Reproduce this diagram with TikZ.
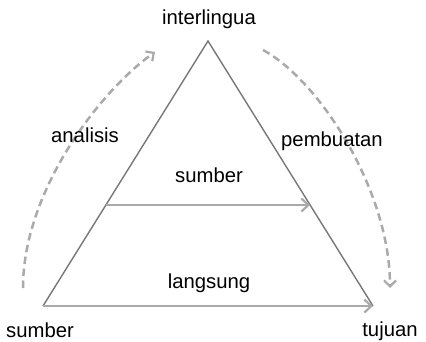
\documentclass[tikz,border=0pt]{standalone}
\usepackage{fontspec}
\setmainfont{Liberation Sans}
\usetikzlibrary{arrows.meta}
\definecolor{sidegray}{HTML}{777777}
\definecolor{arrgray}{HTML}{AAAAAA}
\tikzset{
  lbl/.style={inner sep=0pt, font=\fontsize{20.3}{24}\selectfont, text=black},
  side/.style={draw=sidegray, line width=1.4pt},
  flow/.style={draw=arrgray, line width=2.5pt, -{Straight Barb[length=7pt,width=13pt,line width=2.2pt]}},
  dflow/.style={draw=arrgray, line width=2.5pt, dash pattern=on 7.5pt off 4.5pt, -{Straight Barb[length=6pt,width=12pt,line width=2.2pt]}}
}
\begin{document}
\begin{tikzpicture}[x=1pt,y=1pt]
\useasboundingbox (0,0) rectangle (426,341);
\coordinate (apex) at (208,300);
\coordinate (bl) at (43,35);
\coordinate (br) at (373,35);
\coordinate (ml) at (106,136);
\coordinate (mr) at (310,136);
\coordinate (las) at (23,53);
\coordinate (lae) at (155,289);
\coordinate (ras) at (263,291);
\coordinate (rae) at (390,53);

\draw[side] (bl) -- (apex) -- (br);
\draw[flow] (ml) -- (mr);
\draw[flow] (bl) -- (br);
\draw[dflow] (las) .. controls (23,150) and (100,250) .. (lae);
\draw[dflow] (ras) .. controls (320,260) and (390,150) .. (rae);

\node[lbl] (inter) at (209,322) {interlingua};
\node[lbl] (anal) at (85,206) {analisis};
\node[lbl] (pemb) at (332,200) {pembuatan};
\node[lbl] (summ) at (209,166) {sumber};
\node[lbl] (lang) at (209,58) {langsung};
\node[lbl] (sumb) at (40,10.5) {sumber};
\node[lbl] (tuj) at (390,9.5) {tujuan};
\end{tikzpicture}
\end{document}
